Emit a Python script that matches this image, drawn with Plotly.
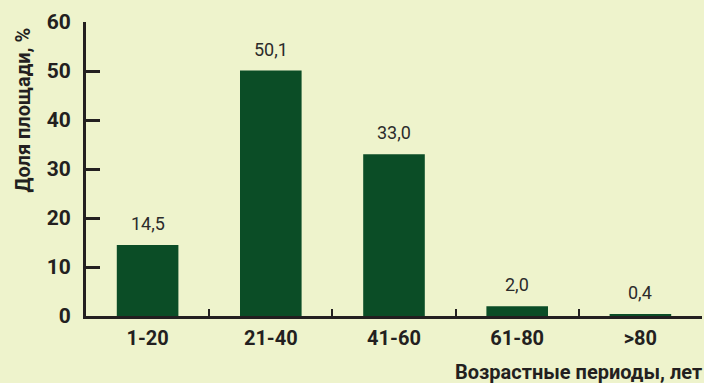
import plotly.graph_objects as go

# Age periods (years) and share of area (%)
categories = ["1-20", "21-40", "41-60", "61-80", ">80"]
shares = [14.5, 50.1, 33.0, 2.0, 0.4]
y_ticks = [0, 10, 20, 30, 40, 50, 60]

BG = "#EEF3CC"
BAR = "#0B4D26"
INK = "#231F20"
FONT = "Roboto"

fig = go.Figure(
    go.Bar(
        x=categories,
        y=shares,
        width=0.5,
        marker=dict(color=BAR, line=dict(width=0)),
        hoverinfo="skip",
    )
)

# value labels above each bar
for c, v in zip(categories, shares):
    fig.add_annotation(
        x=c, y=v, xref="x", yref="y",
        text=f"{v:.1f}".replace(".", ","),
        showarrow=False, yanchor="bottom", yshift=9,
        font=dict(family=FONT, size=18, color="#2B2B2B"),
    )

# axis titles
fig.add_annotation(
    xref="paper", yref="paper", x=1.0, y=0, xanchor="right", yanchor="middle",
    yshift=-56, xshift=2,
    text="<b>Возрастные периоды, лет</b>", showarrow=False,
    font=dict(family=FONT, size=20, color=INK),
)
fig.add_annotation(
    xref="paper", yref="paper", x=0, y=1.0, xanchor="center", yanchor="top",
    xshift=-64, yshift=-4, textangle=-90,
    text="<b>Доля площади, %</b>", showarrow=False,
    font=dict(family=FONT, size=20, color=INK),
)

fig.update_layout(
    width=704, height=383,
    margin=dict(l=86, r=2, t=22, b=67),
    paper_bgcolor=BG, plot_bgcolor=BG,
    showlegend=False,
    bargap=0.5,
)
fig.update_xaxes(
    showgrid=False, zeroline=False,
    showline=True, linecolor=INK, linewidth=3,
    ticks="inside", tickson="boundaries", ticklen=7, tickwidth=2, tickcolor=INK,
    tickfont=dict(family=FONT, size=20, color=INK, weight="bold"),
    ticklabelstandoff=2,
)
fig.update_yaxes(
    range=[0, 60], tickvals=y_ticks,
    showgrid=False, zeroline=False,
    showline=True, linecolor=INK, linewidth=3,
    ticks="inside", ticklen=14, tickwidth=3, tickcolor=INK,
    tickfont=dict(family=FONT, size=21, color=INK, weight="bold"),
    ticklabelstandoff=8,
)

fig.write_html("out.html")
